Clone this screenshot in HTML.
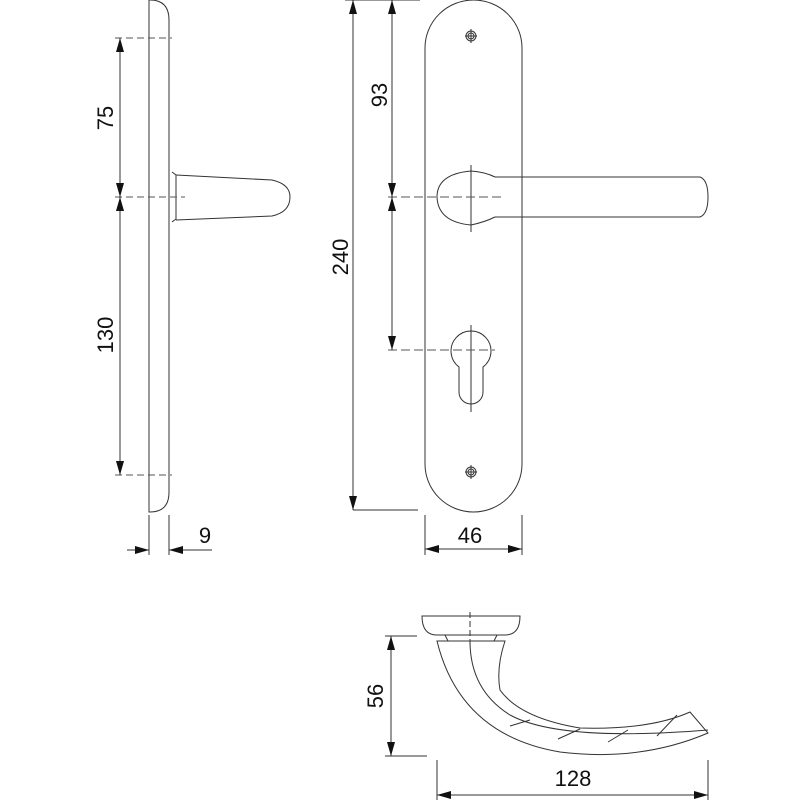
<!DOCTYPE html>
<html><head><meta charset="utf-8"><style>body{margin:0;background:#fff}svg{display:block}text{font-family:"Liberation Sans",sans-serif;fill:#111}</style></head>
<body>
<svg width="800" height="800" viewBox="0 0 800 800" xmlns="http://www.w3.org/2000/svg">
<defs>
<marker id="a" viewBox="0 0 14 8" refX="14" refY="4" markerWidth="14" markerHeight="8" orient="auto-start-reverse" markerUnits="userSpaceOnUse"><path d="M0,0L14,4L0,8z" fill="#111"/></marker>
</defs>
<g fill="none" stroke="#333" stroke-width="1">
<!-- side view -->
<path d="M149,0 H150 Q169,0 169,20 V492 Q169,512 150,512 H149 Z"/>
<path d="M172,172 L176,175 V219 L172,222"/>
<path d="M176,175 L272,180 Q290,184 290,197 Q290,212 272,216 L176,220"/>
<g stroke-dasharray="7,4" stroke="#555"><line x1="115" y1="38" x2="172" y2="38"/><line x1="115" y1="475" x2="172" y2="475"/><line x1="115" y1="197" x2="185" y2="197"/></g>
<line x1="120" y1="38" x2="120" y2="197" marker-start="url(#a)" marker-end="url(#a)"/>
<line x1="120" y1="197" x2="120" y2="475" marker-start="url(#a)" marker-end="url(#a)"/>
<line x1="149" y1="515" x2="149" y2="555"/><line x1="169" y1="515" x2="169" y2="555"/>
<line x1="127" y1="550" x2="149" y2="550" marker-end="url(#a)"/>
<line x1="212" y1="550" x2="169" y2="550" marker-end="url(#a)"/>
<!-- front view -->
<path d="M425,48 A48.5,48 0 0 1 522,48 V464 A48.5,48 0 0 1 425,464 Z"/>
<circle cx="471" cy="36" r="5"/><circle cx="471" cy="36" r="3"/><line x1="465" y1="36" x2="477" y2="36"/><line x1="471" y1="29" x2="471" y2="43"/>
<circle cx="471" cy="472" r="5"/><circle cx="471" cy="472" r="3"/><line x1="465" y1="472" x2="477" y2="472"/><line x1="471" y1="465" x2="471" y2="479"/>
<path d="M471,171 Q437,174 437,197 Q438,222 471,225 Q485,222 495,217 H700 Q708,214 708,197 Q708,180 700,177 H495 Q485,172 471,171 Z"/>
<path d="M471,165 V232"/>
<path d="M459,367 A20,20 0 1 1 483,367 V392 A12,12 0 0 1 459,392 Z"/>
<path d="M471,325 V412"/>
<g stroke-dasharray="9,4" stroke="#555"><line x1="388" y1="197" x2="505" y2="197"/><line x1="388" y1="350" x2="495" y2="350"/></g>
<line x1="353" y1="0" x2="353" y2="510" marker-start="url(#a)" marker-end="url(#a)"/>
<line x1="345" y1="0" x2="420" y2="0"/><line x1="353" y1="510" x2="418" y2="510"/>
<line x1="392" y1="0" x2="392" y2="197" marker-start="url(#a)" marker-end="url(#a)"/>
<line x1="392" y1="197" x2="392" y2="350" marker-start="url(#a)" marker-end="url(#a)"/>
<line x1="425" y1="515" x2="425" y2="555"/><line x1="522" y1="515" x2="522" y2="555"/>
<line x1="425" y1="549" x2="522" y2="549" marker-start="url(#a)" marker-end="url(#a)"/>
<!-- bottom view -->
<path d="M422,616 H520 Q520,635 505,635 H437 Q422,635 422,616 Z"/>
<path d="M445,635 L448,641 H494 L497,635"/>
<path d="M437,641 H505 Q496,668 500,690 Q520,718 580,728 Q650,730 690,712 L708,733 Q640,762 560,752 Q460,735 437,641 Z"/>
<path d="M470,641 Q470,690 510,715 Q560,742 708,730"/>
<g><line x1="510" y1="726" x2="530" y2="720"/><line x1="558" y1="739" x2="580" y2="729"/><line x1="608" y1="742" x2="628" y2="730"/><line x1="657" y1="736" x2="677" y2="715"/></g>
<line x1="470" y1="612" x2="470" y2="645" stroke-dasharray="6,3"/>
<line x1="385" y1="636" x2="417" y2="636"/><line x1="385" y1="756" x2="427" y2="756"/>
<line x1="391" y1="636" x2="391" y2="756" marker-start="url(#a)" marker-end="url(#a)"/>
<line x1="437" y1="760" x2="437" y2="800"/><line x1="708" y1="760" x2="708" y2="800"/>
<line x1="437" y1="795" x2="708" y2="795" marker-start="url(#a)" marker-end="url(#a)"/>
</g>
<g font-size="22">
<text transform="translate(113,118) rotate(-90)" text-anchor="middle">75</text>
<text transform="translate(113,335) rotate(-90)" text-anchor="middle">130</text>
<text x="205" y="543" text-anchor="middle">9</text>
<text transform="translate(348,257) rotate(-90)" text-anchor="middle">240</text>
<text transform="translate(387,95) rotate(-90)" text-anchor="middle">93</text>
<text x="470" y="543" text-anchor="middle">46</text>
<text transform="translate(383,696) rotate(-90)" text-anchor="middle">56</text>
<text x="573" y="786" text-anchor="middle">128</text>
</g>
</svg>
</body></html>
